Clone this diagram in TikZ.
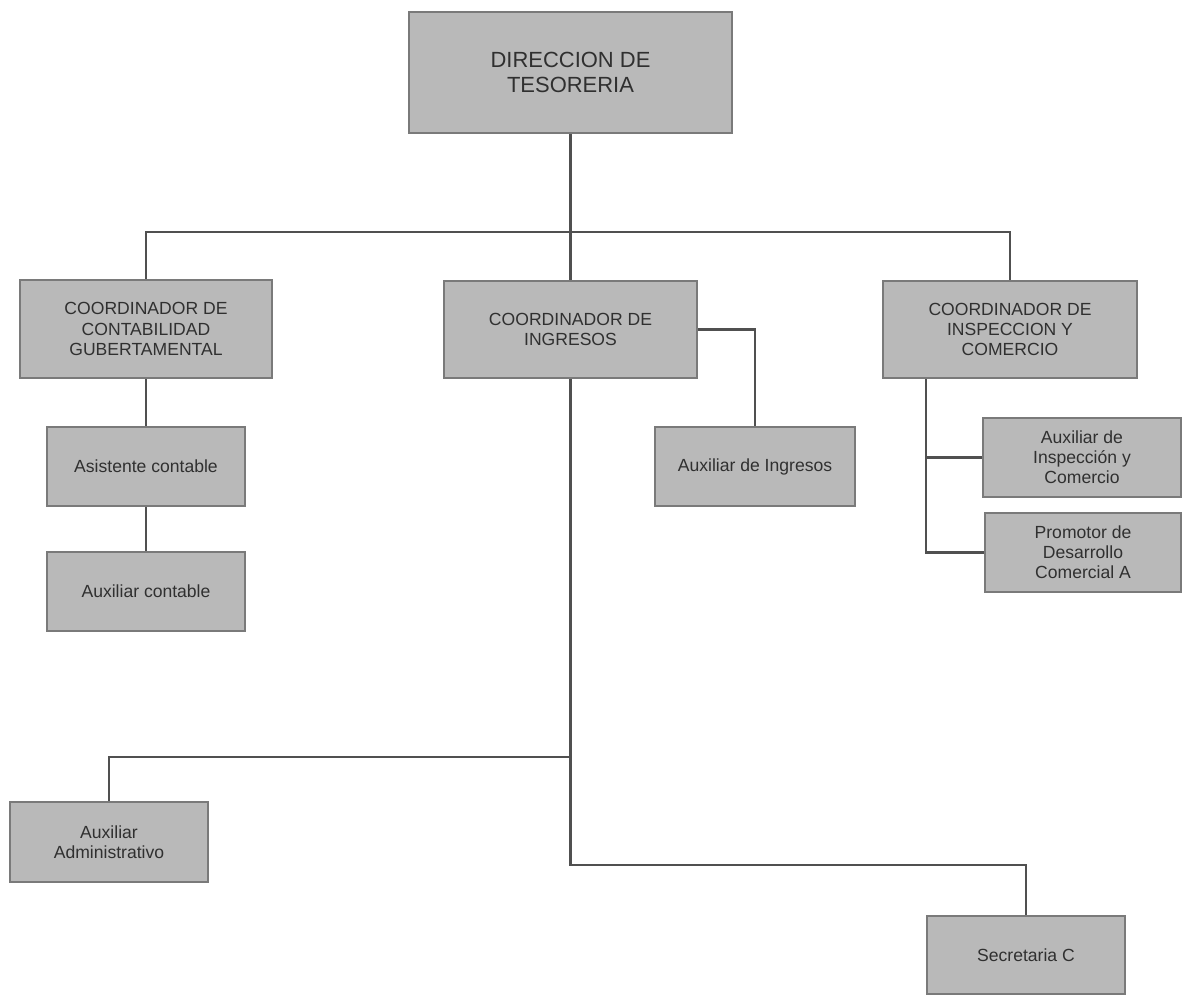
\documentclass[tikz,border=0pt]{standalone}
\usepackage{fontspec}
\setmainfont{Liberation Sans}
\definecolor{boxfill}{HTML}{B9B9B9}
\definecolor{boxline}{HTML}{7A7A7A}
\definecolor{linkcol}{HTML}{505050}
\definecolor{txt}{HTML}{303030}
\begin{document}
\begin{tikzpicture}[x=0.02cm,y=-0.02cm,
  box/.style={draw=boxline, line width=1.3pt, fill=boxfill, align=center,
    inner sep=2pt, font=\fontsize{10}{11.5}\selectfont, text=txt},
  link/.style={draw=linkcol, line width=1.2pt}]
\useasboundingbox[fill=white] (0,0) rectangle (1183,996);
% nodes
\node[box, minimum width=323*0.02cm, minimum height=121*0.02cm, font=\fontsize{12.5}{14.5}\selectfont] (top) at (570.5,72.5) {DIRECCION DE\\TESORERIA};
\node[box, minimum width=252*0.02cm, minimum height=98*0.02cm] (cc) at (146,329) {COORDINADOR DE\\CONTABILIDAD\\GUBERTAMENTAL};
\node[box, minimum width=253*0.02cm, minimum height=97*0.02cm] (ci) at (570.5,329.5) {COORDINADOR DE\\INGRESOS};
\node[box, minimum width=254*0.02cm, minimum height=97*0.02cm] (cn) at (1010,329.5) {COORDINADOR DE\\INSPECCION Y\\COMERCIO};
\node[box, minimum width=198*0.02cm, minimum height=79*0.02cm] (as) at (146,466.5) {Asistente contable};
\node[box, minimum width=198*0.02cm, minimum height=79*0.02cm] (ac) at (146,591.5) {Auxiliar contable};
\node[box, minimum width=200*0.02cm, minimum height=79*0.02cm] (ai) at (755,466.5) {Auxiliar de Ingresos};
\node[box, minimum width=198*0.02cm, minimum height=79*0.02cm] (ins) at (1082,457.5) {Auxiliar de\\Inspecci\'on y\\Comercio};
\node[box, minimum width=196*0.02cm, minimum height=79*0.02cm] (pr) at (1083,552.5) {Promotor de\\Desarrollo\\Comercial A};
\node[box, minimum width=198*0.02cm, minimum height=80*0.02cm] (aa) at (109,842) {Auxiliar\\Administrativo};
\node[box, minimum width=198*0.02cm, minimum height=78*0.02cm] (sc) at (1026,955) {Secretaria C};
% junction coordinates
\coordinate (bus) at (0,232);
\coordinate (j1) at (0,757);
\coordinate (j2) at (0,865);
\coordinate (k) at (926,0);
% connectors
\draw[link] (top.south) -- (ci.north);
\draw[link] (cc.north) -- (cc.north |- bus) -- (cn.north |- bus) -- (cn.north);
\draw[link] (ci.east) -| (ai.north);
\draw[link] (cc.south) -- (as.north);
\draw[link] (as.south) -- (ac.north);
\draw[link] (ci.south) -- (ci.south |- j2) -| (sc.north);
\draw[link] (ci.south |- j1) -| (aa.north);
\draw[link] (k |- cn.south) |- (ins.west);
\draw[link] (k |- cn.south) |- (pr.west);
\end{tikzpicture}
\end{document}
